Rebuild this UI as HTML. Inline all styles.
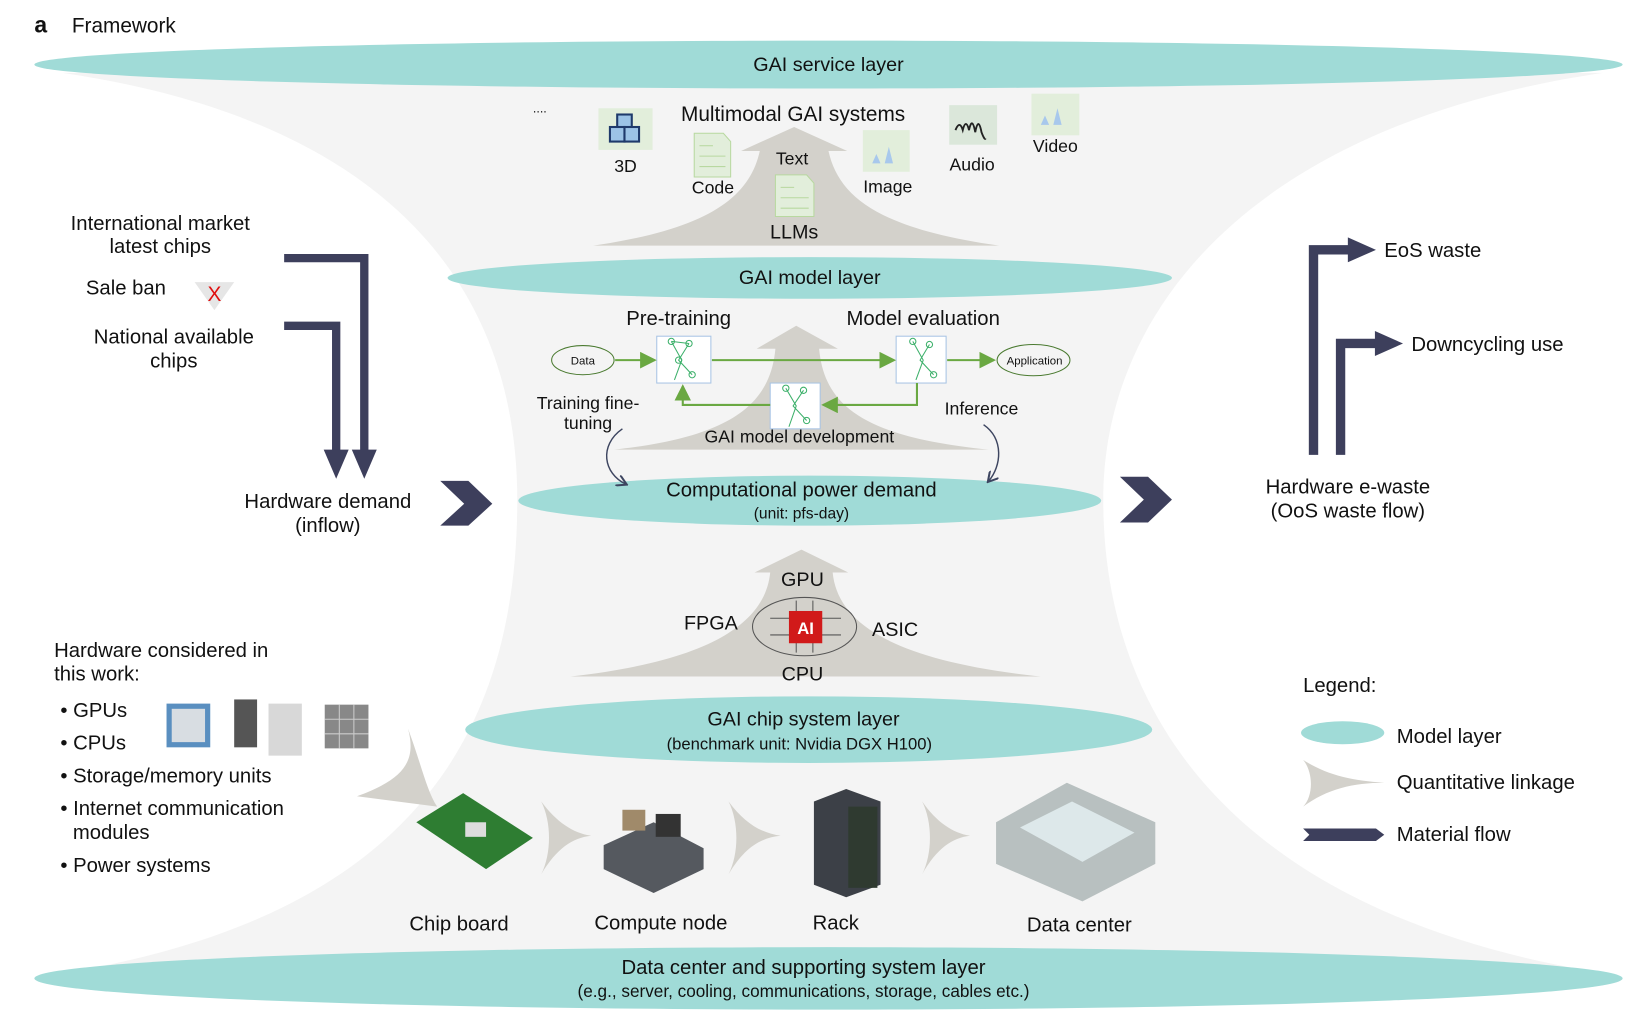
<!DOCTYPE html>
<html><head><meta charset="utf-8"><style>
html,body{margin:0;padding:0;background:#fff;width:1632px;height:1019px;overflow:hidden}
svg{display:block}
text{font-family:"Liberation Sans",sans-serif;fill:#111}
</style></head><body>
<svg width="1632" height="1019" viewBox="0 0 1568 979" xmlns="http://www.w3.org/2000/svg">
<defs>
<marker id="ga" markerWidth="8" markerHeight="8" refX="7" refY="4" orient="auto"><path d="M0,0 L8,4 L0,8 z" fill="#6aa842"/></marker>
<marker id="da" markerWidth="8" markerHeight="8" refX="6" refY="4" orient="auto"><path d="M0,0 L7,4 L0,8" fill="none" stroke="#3d4560" stroke-width="1.4"/></marker>
</defs>
<path d="M60,70 C400,120 497,300 497,480 C497,700 400,880 60,935 L1540,935 C1200,880 1060,700 1060,480 C1060,300 1200,120 1540,70 Z" fill="#f4f4f4"/>
<path d="M570,236 C680,220 720,190 730,145 L712,145 L763,122 L814,145 L796,145 C806,190 846,220 960,236 Z" fill="#d3d1cb"/>
<path d="M590,432 C700,420 740,390 745,335 L727,335 L765,313 L805,335 L787,335 C792,390 830,420 950,432 Z" fill="#d3d1cb"/>
<path d="M548,650 C680,635 735,600 740,550 L725,550 L770,528 L815,550 L800,550 C805,600 860,635 1000,650 Z" fill="#d3d1cb"/>
<ellipse cx="796" cy="62" rx="763" ry="23" fill="#a0dbd7"/>
<text x="796" y="68" font-size="19" text-anchor="middle">GAI service layer</text>
<ellipse cx="778" cy="267" rx="348" ry="20" fill="#a0dbd7"/>
<text x="778" y="273" font-size="19" text-anchor="middle">GAI model layer</text>
<ellipse cx="778" cy="481" rx="280" ry="24" fill="#a0dbd7"/>
<text x="770" y="477" font-size="19.5" text-anchor="middle">Computational power demand</text>
<text x="770" y="498" font-size="15" text-anchor="middle">(unit: pfs-day)</text>
<ellipse cx="777" cy="701" rx="330" ry="32" fill="#a0dbd7"/>
<text x="772" y="697" font-size="19" text-anchor="middle">GAI chip system layer</text>
<text x="768" y="720" font-size="16" text-anchor="middle">(benchmark unit: Nvidia DGX H100)</text>
<ellipse cx="796" cy="940" rx="763" ry="30" fill="#a0dbd7"/>
<text x="772" y="936" font-size="19.5" text-anchor="middle">Data center and supporting system layer</text>
<text x="772" y="958" font-size="16.5" text-anchor="middle">(e.g., server, cooling, communications, storage, cables etc.)</text>
<text x="33" y="31" font-size="22" font-weight="bold">a</text>
<text x="69" y="31" font-size="20">Framework</text>
<text x="512" y="108" font-size="12">....</text>
<rect x="575" y="104" width="52" height="40" fill="#e2eedb"/>
<rect x="593" y="110" width="14" height="14" fill="#9cc3e6" stroke="#1f3a6b" stroke-width="2"/>
<rect x="586" y="122" width="14" height="14" fill="#9cc3e6" stroke="#1f3a6b" stroke-width="2"/>
<rect x="600" y="122" width="14" height="14" fill="#9cc3e6" stroke="#1f3a6b" stroke-width="2"/>
<text x="601" y="165" font-size="17" text-anchor="middle">3D</text>
<path d="M667,128 L695,128 L702,136 L702,170 L667,170 Z" fill="#e2eedb" stroke="#b8d8a0"/>
<g stroke="#b8d8a0"><line x1="672" y1="140" x2="685" y2="140"/><line x1="672" y1="150" x2="697" y2="150"/><line x1="672" y1="160" x2="697" y2="160"/></g>
<text x="685" y="186" font-size="17" text-anchor="middle">Code</text>
<text x="761" y="158" font-size="17" text-anchor="middle">Text</text>
<path d="M745,168 L775,168 L782,176 L782,208 L745,208 Z" fill="#e2eedb" stroke="#b8d8a0"/>
<g stroke="#b8d8a0"><line x1="750" y1="180" x2="763" y2="180"/><line x1="750" y1="190" x2="777" y2="190"/><line x1="750" y1="200" x2="777" y2="200"/></g>
<text x="763" y="229" font-size="19" text-anchor="middle">LLMs</text>
<text x="762" y="116" font-size="20" text-anchor="middle">Multimodal GAI systems</text>
<rect x="829" y="125" width="45" height="40" fill="#e2eedb"/>
<path d="M838,157 l4,-9 l4,9z M850,157 l4,-16 l4,16z" fill="#a8c8ec"/>
<text x="853" y="185" font-size="17" text-anchor="middle">Image</text>
<rect x="912" y="101" width="46" height="38" fill="#dbe7da"/>
<path d="M918,125 q4,-10 7,0 q3,-12 6,0 q3,-14 6,2 q3,-16 6,0 q3,8 4,6" fill="none" stroke="#222" stroke-width="1.8"/>
<text x="934" y="164" font-size="17" text-anchor="middle">Audio</text>
<rect x="991" y="90" width="46" height="40" fill="#e2eedb"/>
<path d="M1000,120 l4,-9 l4,9z M1012,120 l4,-16 l4,16z" fill="#a8c8ec"/>
<text x="1014" y="146" font-size="17" text-anchor="middle">Video</text>
<text x="652" y="312" font-size="19.5" text-anchor="middle">Pre-training</text>
<text x="887" y="312" font-size="19.5" text-anchor="middle">Model evaluation</text>
<ellipse cx="560" cy="346" rx="30" ry="14" fill="none" stroke="#4a7a30"/>
<text x="560" y="350" font-size="11" text-anchor="middle">Data</text>
<ellipse cx="993" cy="346" rx="35" ry="15" fill="none" stroke="#4a7a30"/>
<text x="994" y="350" font-size="11" text-anchor="middle">Application</text>
<g fill="#fff" stroke="#a8c4e4">
<rect x="631" y="323" width="52" height="45"/><rect x="861" y="323" width="48" height="45"/><rect x="740" y="368" width="48" height="44"/></g>
<g fill="none" stroke="#3cb06a" stroke-width="1">
<path d="M645,328 L655,346 L648,365 M662,330 L652,346 L665,360 M645,328 L662,330"/>
<circle cx="645" cy="328" r="3"/><circle cx="662" cy="330" r="3"/><circle cx="652" cy="346" r="3"/><circle cx="665" cy="360" r="3"/>
<path d="M877,328 L887,346 L880,365 M893,331 L884,346 L897,360"/>
<circle cx="877" cy="328" r="3"/><circle cx="893" cy="331" r="3"/><circle cx="897" cy="360" r="3"/>
<path d="M755,373 L765,390 L758,410 M772,375 L762,390 L775,404"/>
<circle cx="755" cy="373" r="3"/><circle cx="772" cy="375" r="3"/><circle cx="775" cy="404" r="3"/>
</g>
<g stroke="#6aa842" stroke-width="2" fill="none">
<line x1="591" y1="346" x2="629" y2="346" marker-end="url(#ga)"/>
<line x1="684" y1="346" x2="859" y2="346" marker-end="url(#ga)"/>
<line x1="910" y1="346" x2="955" y2="346" marker-end="url(#ga)"/>
<path d="M881,368 L881,389 L791,389" marker-end="url(#ga)"/>
<path d="M740,389 L656,389 L656,371" marker-end="url(#ga)"/>
</g>
<text x="565" y="393" font-size="17" text-anchor="middle">Training fine-</text>
<text x="565" y="412" font-size="17" text-anchor="middle">tuning</text>
<text x="768" y="425" font-size="17" text-anchor="middle">GAI model development</text>
<text x="943" y="398" font-size="17" text-anchor="middle">Inference</text>
<path d="M598,412 C575,428 580,455 601,465" fill="none" stroke="#3d4560" stroke-width="1.4" marker-end="url(#da)"/>
<path d="M945,408 C965,422 962,448 950,462" fill="none" stroke="#3d4560" stroke-width="1.4" marker-end="url(#da)"/>
<text x="771" y="563" font-size="19" text-anchor="middle">GPU</text>
<text x="683" y="605" font-size="19" text-anchor="middle">FPGA</text>
<text x="860" y="611" font-size="19" text-anchor="middle">ASIC</text>
<text x="771" y="654" font-size="19" text-anchor="middle">CPU</text>
<ellipse cx="773" cy="602" rx="50" ry="28" fill="none" stroke="#555" stroke-width="1"/>
<g stroke="#555" stroke-width="1"><line x1="740" y1="594" x2="808" y2="594"/><line x1="740" y1="610" x2="808" y2="610"/><line x1="765" y1="577" x2="765" y2="627"/><line x1="781" y1="577" x2="781" y2="627"/></g>
<rect x="758" y="587" width="32" height="31" fill="#d11a1a"/>
<text x="774" y="609" font-size="16" font-weight="bold" text-anchor="middle" style="fill:#fff">AI</text>
<text x="154" y="221" font-size="19.5" text-anchor="middle">International market</text>
<text x="154" y="243" font-size="19.5" text-anchor="middle">latest chips</text>
<text x="121" y="283" font-size="19.5" text-anchor="middle">Sale ban</text>
<path d="M187,271 L225,271 L206,298 Z" fill="#e6e6e6"/>
<text x="206" y="289" font-size="20" text-anchor="middle" style="fill:#e01010">X</text>
<text x="167" y="330" font-size="19.5" text-anchor="middle">National available</text>
<text x="167" y="353" font-size="19.5" text-anchor="middle">chips</text>
<g fill="none" stroke="#3d3f5c" stroke-width="8">
<path d="M273,248 L350,248 L350,438"/><path d="M273,313 L323,313 L323,438"/></g>
<path d="M338,432 L362,432 L350,460Z M311,432 L335,432 L323,460Z" fill="#3d3f5c"/>
<text x="315" y="488" font-size="19.5" text-anchor="middle">Hardware demand</text>
<text x="315" y="511" font-size="19.5" text-anchor="middle">(inflow)</text>
<path d="M423,462 L450,462 L473,484 L450,505 L423,505 L446,484Z" fill="#3d3f5c"/>
<path d="M1076,458 L1103,458 L1126,480 L1103,502 L1076,502 L1099,480Z" fill="#3d3f5c"/>
<g fill="none" stroke="#3d3f5c" stroke-width="9"><path d="M1262,437 L1262,240 L1300,240"/><path d="M1288,437 L1288,330 L1327,330"/></g>
<path d="M1295,228 L1322,240 L1295,252Z M1321,318 L1348,330 L1321,342Z" fill="#3d3f5c"/>
<text x="1330" y="247" font-size="19.5">EoS waste</text>
<text x="1356" y="337" font-size="19.5">Downcycling use</text>
<text x="1295" y="474" font-size="19.5" text-anchor="middle">Hardware e-waste</text>
<text x="1295" y="497" font-size="19.5" text-anchor="middle">(OoS waste flow)</text>
<text x="1252" y="665" font-size="19.5">Legend:</text>
<ellipse cx="1290" cy="704" rx="40" ry="11" fill="#a0dbd7"/>
<text x="1342" y="714" font-size="19.5">Model layer</text>
<path d="M1252,730 C1262,742 1262,765 1252,775 C1275,758 1300,752 1330,752 C1300,750 1275,745 1252,730Z" fill="#d3d1cb"/>
<text x="1342" y="758" font-size="19.5">Quantitative linkage</text>
<path d="M1252,796 L1322,796 L1330,802 L1322,808 L1252,808 L1258,802Z" fill="#3d3f5c"/>
<text x="1342" y="808" font-size="19.5">Material flow</text>
<text x="52" y="631" font-size="19.5">Hardware considered in</text>
<text x="52" y="654" font-size="19.5">this work:</text>
<g font-size="19.5"><text x="58" y="689">• GPUs</text><text x="58" y="720">• CPUs</text><text x="58" y="752">• Storage/memory units</text><text x="58" y="783">• Internet communication</text><text x="70" y="806">modules</text><text x="58" y="838">• Power systems</text></g>
<rect x="160" y="676" width="42" height="42" fill="#5a8fc0"/><rect x="165" y="681" width="32" height="32" fill="#d8dde2"/>
<rect x="225" y="672" width="22" height="46" fill="#555"/>
<rect x="258" y="676" width="32" height="50" fill="#d8d8d8"/>
<rect x="312" y="677" width="42" height="42" fill="#888"/><g stroke="#ccc"><line x1="326" y1="677" x2="326" y2="719"/><line x1="340" y1="677" x2="340" y2="719"/><line x1="312" y1="691" x2="354" y2="691"/><line x1="312" y1="705" x2="354" y2="705"/></g>
<path d="M343,765 C390,748 400,730 392,700 C405,735 410,760 420,775 Z" fill="#d3d1cb"/>
<path d="M400,790 L445,762 L512,805 L467,835Z" fill="#2e7d32"/><rect x="447" y="790" width="20" height="14" fill="#ddd"/>
<path d="M520,770 C530,790 530,820 520,840 C535,815 550,805 568,803 C550,800 535,790 520,770Z" fill="#d3d1cb"/>
<path d="M580,812 L628,790 L676,815 L676,835 L628,858 L580,835Z" fill="#55595f"/><rect x="598" y="778" width="22" height="20" fill="#a08a6a"/><rect x="630" y="782" width="24" height="22" fill="#333"/>
<path d="M700,770 C710,790 710,820 700,840 C715,815 730,805 750,803 C730,800 715,790 700,770Z" fill="#d3d1cb"/>
<path d="M782,770 L813,758 L846,770 L846,850 L813,862 L782,850Z" fill="#3c4047"/><rect x="815" y="775" width="28" height="78" fill="#2f3a30"/>
<path d="M886,770 C896,790 896,820 886,840 C900,815 915,805 932,803 C915,800 900,790 886,770Z" fill="#d3d1cb"/>
<path d="M957,790 L1025,752 L1110,790 L1110,830 L1040,866 L957,830Z" fill="#b8c0c0"/><path d="M980,795 L1030,770 L1090,800 L1040,828Z" fill="#dde8ea"/>
<text x="441" y="894" font-size="19.5" text-anchor="middle">Chip board</text>
<text x="635" y="893" font-size="19.5" text-anchor="middle">Compute node</text>
<text x="803" y="893" font-size="19.5" text-anchor="middle">Rack</text>
<text x="1037" y="895" font-size="19.5" text-anchor="middle">Data center</text>
</svg>
</body></html>
